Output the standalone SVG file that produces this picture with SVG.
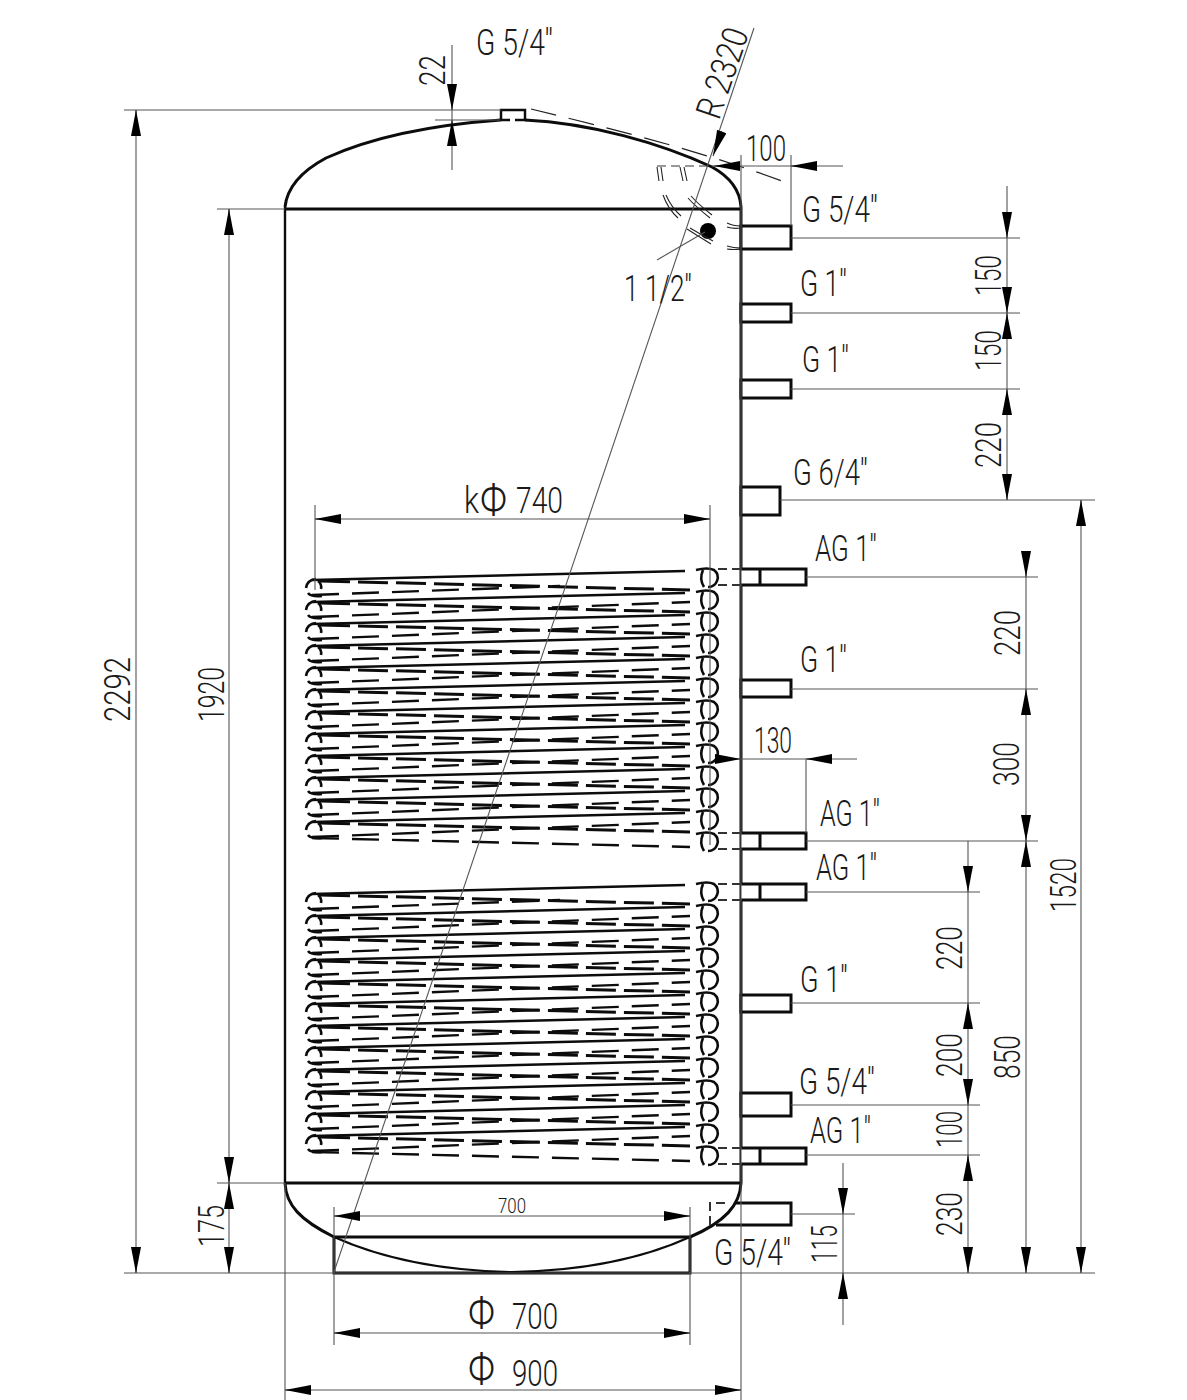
<svg xmlns="http://www.w3.org/2000/svg" width="1187" height="1400" viewBox="0 0 1187 1400">
<style>
.t{fill:none;stroke:#555;stroke-width:1.1}
.k{fill:none;stroke:#0c0c0c;stroke-width:3}
.p{fill:#fff;stroke:#0c0c0c;stroke-width:3}
.h{fill:none;stroke:#222;stroke-width:1.2;stroke-dasharray:26 13}
.d{fill:none;stroke:#333;stroke-width:1.2;stroke-dasharray:9 5}
.a{fill:none;stroke:#555;stroke-width:1.1;marker-end:url(#ar)}
.c1{fill:none;stroke:#0c0c0c;stroke-width:2.6}
.c2{fill:none;stroke:#0c0c0c;stroke-width:3;stroke-dasharray:30 8}
.c3{fill:none;stroke:#0c0c0c;stroke-width:2.4;stroke-dasharray:27 13}
.c4{fill:none;stroke:#0c0c0c;stroke-width:2.6}
text{font-family:Roboto,"Liberation Sans",Arial,sans-serif;font-weight:300;fill:#1a1a1a;font-size:36px}
.s{font-size:21px}
.f{font-size:46px}
</style>
<defs>
<marker id="ar" viewBox="0 0 26 10" markerUnits="userSpaceOnUse" markerWidth="26" markerHeight="10" refX="26" refY="5" orient="auto"><path d="M0 0L26 5L0 10z" fill="#000"/></marker>
<g id="loop"><path class="c4" d="M696 570Q708 567 714 570A9.5 9.5 0 0 1 708 587M703 570Q699 579 704 587"/></g>
<g id="turn0">
<path class="c1" d="M312 580L685 571"/>
<path class="c2" d="M320 581L690 590"/>
<path class="c4" d="M316 579Q307 580 306 588M318 581Q322 584 321 589M308 593Q311 597 322 596"/>
<use href="#loop"/>
</g>
<g id="turn">
<use href="#turn0"/>
<path class="c3" d="M312 617L690 602"/>
</g>
<g id="coil">
<path class="c3" d="M312 595L560 586"/>
<use href="#turn"/><use href="#turn" y="22"/><use href="#turn" y="44"/><use href="#turn" y="66"/><use href="#turn" y="88"/><use href="#turn" y="110"/><use href="#turn" y="132"/><use href="#turn" y="154"/><use href="#turn" y="176"/><use href="#turn" y="198"/><use href="#turn" y="220"/><use href="#turn0" y="242"/>
<use href="#loop" y="264"/>
<path class="c3" d="M312 838L690 847"/>
</g>
</defs>
<rect width="1187" height="1400" fill="#fff"/>
<g id="tank">
<path class="k" style="stroke-width:2.4" d="M285 1183V207"/>
<path class="k" d="M741 207V1183"/>
<path class="k" d="M285 207C287 188 300 172 326 158C370 138 430 125 501 120M525 120C590 123 660 143 712 167C730 177 740 190 741 207"/>
<path class="k" d="M285 209H741M285 1183H741"/>
<path class="k" d="M285 1183C286 1205 300 1220 334 1237M741 1183C740 1205 725 1222 690 1237"/>
<path class="k" d="M334 1237H690V1273H334Z"/>
<path class="k" style="stroke-width:2" d="M334 1237C390 1262 450 1271 512 1272C575 1271 635 1262 690 1237"/>
<path class="h" d="M531 109C600 126 700 150 790 184"/>
</g>
<g id="nozzle-top"><path class="k" style="stroke-width:2.5" d="M501 120V110H525V120H515M510 120H501"/></g>
<g id="inner-top">
<circle cx="708" cy="231" r="8" fill="#000"/>
<path class="t" style="stroke:#222" d="M657 167L659 181M661 167L663 181M680 167L683 181M684 167L687 181M663 195Q668 209 678 218M666 195Q671 207 681 216M688 198Q695 206 710 218M691 196Q698 204 712 215M687 229Q698 236 711 244M690 228Q700 234 713 241M727 223Q733 226 741 226M727 227Q733 229 741 228M727 246Q733 248 741 248M727 249Q733 250 741 249"/>
<path class="d" d="M657 166H712"/>
</g>
<g id="coil-1"><use href="#coil"/></g>
<g id="coil-2"><use href="#coil" y="314"/></g>
<g id="stubs">
<rect class="p" x="741" y="226" width="50" height="23"/>
<rect class="p" x="741" y="304" width="50" height="18"/>
<rect class="p" x="741" y="380" width="50" height="18"/>
<rect class="p" x="741" y="487" width="39" height="28"/>
<path class="p" d="M741 569H806V585H741M760 569V585"/>
<rect class="p" x="741" y="680" width="50" height="17"/>
<path class="p" d="M741 833H806V849H741M760 833V849"/>
<path class="p" d="M741 884H806V900H741M760 884V900"/>
<rect class="p" x="741" y="995" width="50" height="17"/>
<rect class="p" x="741" y="1093" width="50" height="23"/>
<path class="p" d="M741 1148H806V1164H741M760 1148V1164"/>
<path class="p" style="fill:none" d="M735 1203H791V1225H716"/>
<path class="d" style="stroke-width:2" d="M725 1203H710V1225M718 1148H741M718 1164H741M718 569H741M718 585H741M718 833H741M718 849H741M718 884H741M718 900H741"/>
</g>
<g id="connectors">
<path class="t" d="M124 110H501M124 1273H1095M217 209H285M217 1183H285"/>
<path class="t" d="M136 110V1273M229 209V1273"/>
<path class="a" d="M136 136V110"/><path class="a" d="M136 1247V1273"/>
<path class="a" d="M229 235V209"/><path class="a" d="M229 1157V1183"/><path class="a" d="M229 1209V1183"/><path class="a" d="M229 1247V1273"/>
<path class="t" d="M452 45V170M435 120H500"/>
<path class="a" d="M452 84V110"/><path class="a" d="M452 146V120"/>
<path class="t" d="M754 28L334 1272"/>
<path class="a" d="M722 131L713 156"/>
<path class="t" d="M712 166H843M741 155V1400M791 155V226"/>
<path class="a" d="M740 166H714"/><path class="a" d="M817 166H791"/>
<path class="t" d="M657 260L705 232"/>
<path class="t" d="M791 238H1020M791 313H1020M791 389H1020M780 500H1095M806 577H1038M791 689H1038M806 841H1038M806 892H980M791 1003H980M791 1105H980M806 1155H980M791 1214H855"/>
<path class="t" d="M1007 186V500M1026 553V1273M1081 500V1273M968 841V1273M843 1163V1325"/>
<path class="a" d="M1007 212V238"/><path class="a" d="M1007 287V313"/><path class="a" d="M1007 339V313"/><path class="a" d="M1007 415V389"/><path class="a" d="M1007 474V500"/>
<path class="a" d="M1081 526V500"/><path class="a" d="M1081 1247V1273"/>
<path class="a" d="M1026 551V577"/><path class="a" d="M1026 715V689"/><path class="a" d="M1026 815V841"/><path class="a" d="M1026 867V841"/><path class="a" d="M1026 1247V1273"/>
<path class="a" d="M968 866V892"/><path class="a" d="M968 1029V1003"/><path class="a" d="M968 1079V1105"/><path class="a" d="M968 1181V1155"/><path class="a" d="M968 1247V1273"/>
<path class="a" d="M843 1188V1214"/><path class="a" d="M843 1299V1273"/>
<path class="t" d="M334 1207V1345M690 1207V1345M334 1216H690M334 1333H690M285 1183V1400M285 1390H741"/>
<path class="a" d="M360 1216H334"/><path class="a" d="M664 1216H690"/>
<path class="a" d="M360 1333H334"/><path class="a" d="M664 1333H690"/>
<path class="a" d="M311 1390H285"/><path class="a" d="M715 1390H741"/>
<path class="t" d="M315 505V590M710 505V845M315 519H710"/>
<path class="a" d="M341 519H315"/><path class="a" d="M684 519H710"/>
<path class="t" d="M741 759H857M806 759V833"/>
<path class="a" d="M715 759H741"/><path class="a" d="M832 759H806"/>
</g>
<g id="labels">
<text x="476" y="55" textLength="77" lengthAdjust="spacingAndGlyphs">G 5/4''</text>
<text transform="translate(445 86) rotate(-90)" textLength="31" lengthAdjust="spacingAndGlyphs">22</text>
<text transform="translate(719 121) rotate(-71)" textLength="93" lengthAdjust="spacingAndGlyphs">R 2320</text>
<text x="746" y="161" textLength="40" lengthAdjust="spacingAndGlyphs">100</text>
<text x="802" y="222" textLength="76" lengthAdjust="spacingAndGlyphs">G 5/4''</text>
<text x="624" y="301" textLength="68" lengthAdjust="spacingAndGlyphs">1 1/2''</text>
<text x="800" y="296" textLength="47" lengthAdjust="spacingAndGlyphs">G 1''</text>
<text x="802" y="372" textLength="47" lengthAdjust="spacingAndGlyphs">G 1''</text>
<text x="793" y="485" textLength="75" lengthAdjust="spacingAndGlyphs">G 6/4''</text>
<text x="815" y="561" textLength="62" lengthAdjust="spacingAndGlyphs">AG 1''</text>
<text x="800" y="672" textLength="47" lengthAdjust="spacingAndGlyphs">G 1''</text>
<text x="754" y="753" textLength="38" lengthAdjust="spacingAndGlyphs">130</text>
<text x="820" y="826" textLength="60" lengthAdjust="spacingAndGlyphs">AG 1''</text>
<text x="816" y="880" textLength="61" lengthAdjust="spacingAndGlyphs">AG 1''</text>
<text x="800" y="992" textLength="48" lengthAdjust="spacingAndGlyphs">G 1''</text>
<text x="799" y="1094" textLength="76" lengthAdjust="spacingAndGlyphs">G 5/4''</text>
<text x="810" y="1143" textLength="61" lengthAdjust="spacingAndGlyphs">AG 1''</text>
<text x="714" y="1265" textLength="77" lengthAdjust="spacingAndGlyphs">G 5/4''</text>
<text x="464" y="513" textLength="15" lengthAdjust="spacingAndGlyphs">k</text>
<text class="f" x="480" y="516" textLength="27" lengthAdjust="spacingAndGlyphs">Φ</text>
<text x="516" y="513" textLength="47" lengthAdjust="spacingAndGlyphs">740</text>
<text class="s" x="498" y="1213" textLength="28" lengthAdjust="spacingAndGlyphs">700</text>
<text class="f" x="468" y="1329" textLength="27" lengthAdjust="spacingAndGlyphs">Φ</text>
<text x="512" y="1329" textLength="46" lengthAdjust="spacingAndGlyphs">700</text>
<text class="f" x="468" y="1385" textLength="27" lengthAdjust="spacingAndGlyphs">Φ</text>
<text x="512" y="1386" textLength="46" lengthAdjust="spacingAndGlyphs">900</text>
<text transform="translate(130 722) rotate(-90)" textLength="65" lengthAdjust="spacingAndGlyphs">2292</text>
<text transform="translate(224 722) rotate(-90)" textLength="55" lengthAdjust="spacingAndGlyphs">1920</text>
<text transform="translate(224 1247) rotate(-90)" textLength="42" lengthAdjust="spacingAndGlyphs">175</text>
<text transform="translate(1001 296) rotate(-90)" textLength="41" lengthAdjust="spacingAndGlyphs">150</text>
<text transform="translate(1001 371) rotate(-90)" textLength="41" lengthAdjust="spacingAndGlyphs">150</text>
<text transform="translate(1001 468) rotate(-90)" textLength="46" lengthAdjust="spacingAndGlyphs">220</text>
<text transform="translate(1020 656) rotate(-90)" textLength="46" lengthAdjust="spacingAndGlyphs">220</text>
<text transform="translate(1019 786) rotate(-90)" textLength="44" lengthAdjust="spacingAndGlyphs">300</text>
<text transform="translate(1076 912) rotate(-90)" textLength="54" lengthAdjust="spacingAndGlyphs">1520</text>
<text transform="translate(1020 1079) rotate(-90)" textLength="44" lengthAdjust="spacingAndGlyphs">850</text>
<text transform="translate(962 970) rotate(-90)" textLength="44" lengthAdjust="spacingAndGlyphs">220</text>
<text transform="translate(962 1077) rotate(-90)" textLength="44" lengthAdjust="spacingAndGlyphs">200</text>
<text transform="translate(962 1148) rotate(-90)" textLength="37" lengthAdjust="spacingAndGlyphs">100</text>
<text transform="translate(962 1236) rotate(-90)" textLength="44" lengthAdjust="spacingAndGlyphs">230</text>
<text transform="translate(837 1263) rotate(-90)" textLength="38" lengthAdjust="spacingAndGlyphs">115</text>
</g>
</svg>
